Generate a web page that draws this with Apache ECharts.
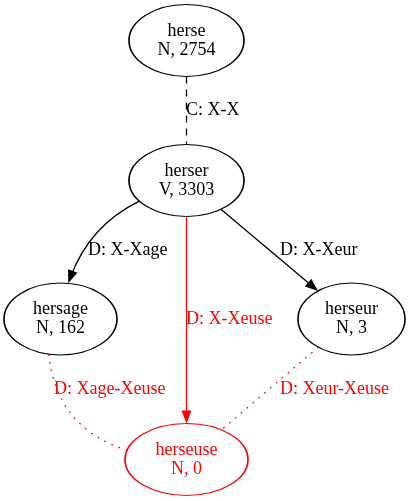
<!DOCTYPE html>
<html>
<head>
<meta charset="utf-8">
<script src="https://cdn.jsdelivr.net/npm/echarts@6/dist/echarts.min.js"></script>
<style>
  html, body { margin: 0; padding: 0; background: #fff; }
  #main { width: 411px; height: 501px; }
</style>
</head>
<body>
<div id="main"></div>
<script>
// words in the derivation graph
var nodeWords = ['herse', 'herser', 'hersage', 'herseur', 'herseuse'];
var nodeClass = ['N', 'V', 'N', 'N', 'N'];
var nodeCount = [2754, 3303, 162, 3, 0];

// derivation links
var edgeFrom = ['herse', 'herser', 'herser', 'herser', 'hersage', 'herseur'];
var edgeTo = ['herser', 'hersage', 'herseuse', 'herseur', 'herseuse', 'herseuse'];
var edgeRule = ['C: X-X', 'D: X-Xage', 'D: X-Xeuse', 'D: X-Xeur', 'D: Xage-Xeuse', 'D: Xeur-Xeuse'];

// layout, pixel space with y going down
var nodeX = [186.5, 186.5, 60.5, 351.5, 186.5];
var nodeY = [40.5, 180.5, 319, 319, 459.5];
var nodeW = [115, 115, 113, 107, 123];
var nodeH = 72;
var nodeColor = ['#000', '#000', '#000', '#000', '#f00'];

var edgeColor = ['#000', '#000', '#f00', '#000', '#f00', '#f00'];
var edgeDash = ['dashed', 'solid', 'solid', 'solid', 'dotted', 'dotted'];
var edgeArrow = [false, true, true, true, false, false];
var edgeBend = [0, -0.2, 0, 0, -0.33, 0];
var edgePorts = [null, [145, -82], null, null, [102, 195], null];   // degrees on the ellipses
var edgeLabelX = [186, 88, 186, 280, 54, 280];
var edgeLabelY = [110, 250, 319, 250, 389, 389];

var FONT = 'Liberation Serif, Times New Roman, serif';
var arrowW = 10, arrowLen = 13;
var dashes = { solid: 'solid', dashed: [7, 6], dotted: [1.7, 6] };
var ellipse = 'path://M1,0C1,0.5523 0.5523,1 0,1C-0.5523,1 -1,0.5523 -1,0C-1,-0.5523 -0.5523,-1 0,-1C0.5523,-1 1,-0.5523 1,0Z';

function idx(name) {
    return nodeWords.indexOf(name);
}
function port(i, deg) {
    var a = deg * Math.PI / 180;
    return [nodeX[i] + nodeW[i] / 2 * Math.cos(a), nodeY[i] + nodeH / 2 * Math.sin(a)];
}
// where a ray from the node centre leaves its ellipse
function rim(i, dx, dy) {
    var l = Math.sqrt(dx * dx + dy * dy);
    dx /= l; dy /= l;
    var t = 1 / Math.sqrt(Math.pow(dx / (nodeW[i] / 2), 2) + Math.pow(dy / (nodeH / 2), 2));
    return [nodeX[i] + dx * t, nodeY[i] + dy * t];
}

var lineData = edgeFrom.map(function (f, k) {
    var a = idx(f), b = idx(edgeTo[k]);
    var p1, p2;
    if (edgePorts[k]) {
        p1 = port(a, edgePorts[k][0]);
        p2 = port(b, edgePorts[k][1]);
    } else {
        var dx = nodeX[b] - nodeX[a], dy = nodeY[b] - nodeY[a];
        p1 = rim(a, dx, dy);
        p2 = rim(b, -dx, -dy);
    }
    if (edgeArrow[k]) {
        // echarts centres the symbol on the end point, pull it back so the tip touches the node
        var c = edgeBend[k];
        var from = c ? [(p1[0] + p2[0]) / 2 - (p1[1] - p2[1]) * c, (p1[1] + p2[1]) / 2 - (p2[0] - p1[0]) * c] : p1;
        var ux = p2[0] - from[0], uy = p2[1] - from[1], ul = Math.sqrt(ux * ux + uy * uy);
        p2 = [p2[0] - ux / ul * arrowLen / 2, p2[1] - uy / ul * arrowLen / 2];
    }
    return {
        coords: [p1, p2],
        symbol: ['none', edgeArrow[k] ? 'triangle' : 'none'],
        symbolSize: [[arrowW, arrowLen], [arrowW, arrowLen]],
        lineStyle: {
            color: edgeColor[k],
            type: dashes[edgeDash[k]],
            curveness: edgeBend[k]
        }
    };
});

var chart = echarts.init(document.getElementById('main'));
chart.setOption({
    animation: false,
    backgroundColor: '#fff',
    grid: { left: 0, right: 0, top: 0, bottom: 0 },
    xAxis: { type: 'value', min: 0, max: 411, show: false },
    yAxis: { type: 'value', min: 0, max: 501, inverse: true, show: false },
    series: [
        {
            type: 'lines',
            coordinateSystem: 'cartesian2d',
            silent: true,
            z: 2,
            lineStyle: { width: 1.3, opacity: 1 },
            data: lineData
        },
        {
            type: 'scatter',
            silent: true,
            z: 3,
            symbol: ellipse,
            symbolKeepAspect: false,
            itemStyle: { color: '#fff', borderWidth: 1.3, opacity: 1 },
            label: {
                show: true,
                position: 'inside',
                fontFamily: FONT,
                fontSize: 18,
                lineHeight: 19,
                formatter: function (p) {
                    var i = p.dataIndex;
                    return nodeWords[i] + '\n' + nodeClass[i] + ', ' + nodeCount[i];
                }
            },
            data: nodeWords.map(function (w, i) {
                return {
                    name: w,
                    value: [nodeX[i], nodeY[i]],
                    symbolSize: [nodeW[i], nodeH],
                    itemStyle: { borderColor: nodeColor[i] },
                    label: { color: nodeColor[i] }
                };
            })
        },
        {
            type: 'scatter',
            silent: true,
            z: 4,
            symbolSize: 0,
            itemStyle: { color: 'rgba(0,0,0,0)', opacity: 1 },
            label: {
                show: true,
                position: 'right',
                distance: 0,
                fontFamily: FONT,
                fontSize: 18,
                opacity: 1,
                formatter: '{b}'
            },
            data: edgeRule.map(function (r, k) {
                return {
                    name: r,
                    value: [edgeLabelX[k], edgeLabelY[k]],
                    label: { color: edgeColor[k] }
                };
            })
        }
    ]
});
</script>
</body>
</html>
